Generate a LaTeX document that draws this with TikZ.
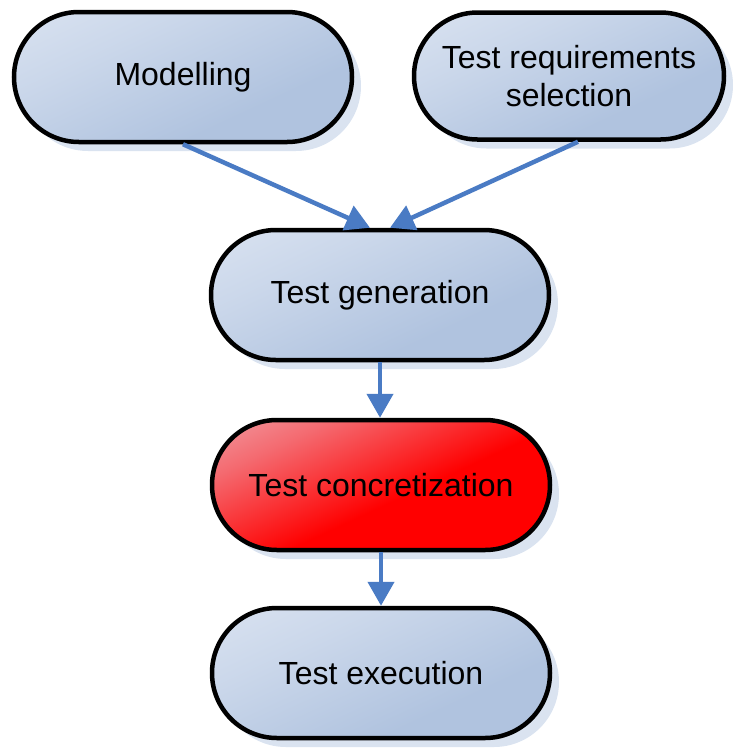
\documentclass[tikz,border=0pt]{standalone}
\usepackage{fontspec}
\setmainfont{Liberation Sans}
\usetikzlibrary{shapes.misc,shadows,arrows.meta}
\definecolor{bluelight}{HTML}{E6ECF6}
\definecolor{bluedark}{HTML}{B0C3DF}
\definecolor{shadowblue}{HTML}{DAE3F0}
\definecolor{redlight}{HTML}{EDD3DA}
\definecolor{redmid}{HTML}{F46A70}
\definecolor{arrowblue}{HTML}{4A7BC4}
\pgfdeclareverticalshading{blueshade}{100bp}{color(0bp)=(bluedark); color(35bp)=(bluedark); color(65bp)=(bluelight!50!bluedark); color(100bp)=(bluelight)}
\pgfdeclareverticalshading{redshade}{100bp}{color(0bp)=(red); color(45bp)=(red); color(70bp)=(redmid); color(100bp)=(redlight)}
\tikzset{
  proc/.style={rounded rectangle, draw=black, line width=4.5pt,
    minimum width=338pt, minimum height=130pt, inner sep=0pt,
    align=center, font=\fontsize{32}{38}\selectfont,
    drop shadow={shadow xshift=9pt, shadow yshift=-9pt, fill=shadowblue, opacity=1, draw=none}},
  bluefill/.style={shading=blueshade, shading angle=25},
  redfill/.style={shading=redshade, shading angle=25},
  conn/.style={draw=arrowblue, line width=4.5pt, -{Triangle[length=24pt,width=26pt]}}
}
\begin{document}
\begin{tikzpicture}[x=1pt,y=-1pt]
\useasboundingbox (0,0) rectangle (738,748);
\node[proc,bluefill] (m) at (183,77) {Modelling};
\node[proc,bluefill,minimum width=310pt,minimum height=127pt] (t) at (569,76) {Test requirements\\selection};
\node[proc,bluefill] (g) at (380,295) {Test generation};
\node[proc,redfill] (c) at (381,485) {Test concretization};
\node[proc,bluefill] (e) at (381,673) {Test execution};
\draw[conn] (m.south) -- ([xshift=-10pt]g.north);
\draw[conn] ([xshift=9pt]t.south) -- ([xshift=10pt]g.north);
\draw[conn] (g.south) -- (g.south |- c.north);
\draw[conn] (c.south) -- (e.north);
\end{tikzpicture}
\end{document}
